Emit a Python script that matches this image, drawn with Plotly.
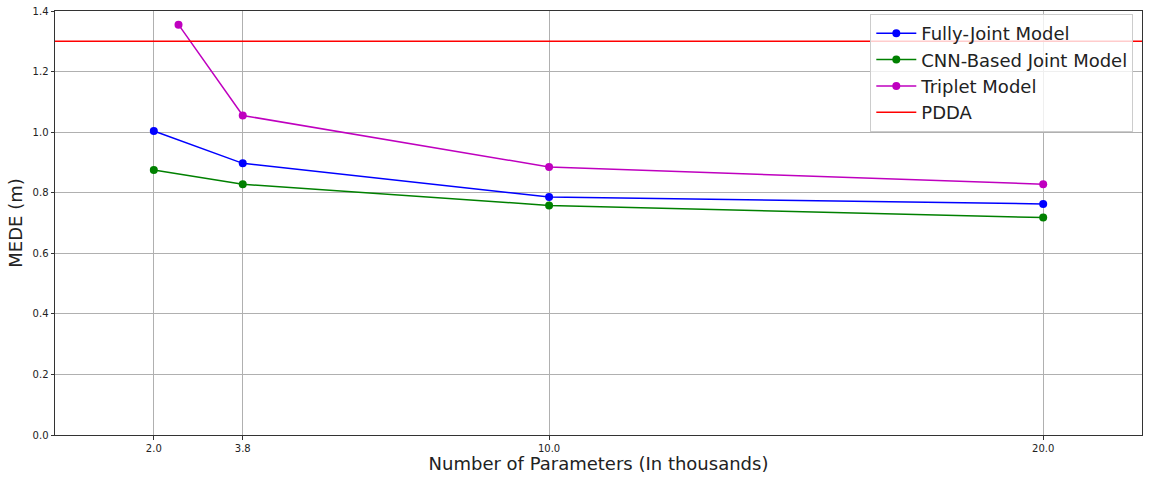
import plotly.graph_objects as go

params = [2.0, 3.8, 10.0, 20.0]
triplet_params = [2.5, 3.8, 10.0, 20.0]
fully_joint = [1.004, 0.897, 0.786, 0.763]
cnn_joint = [0.875, 0.828, 0.758, 0.718]
triplet = [1.355, 1.055, 0.885, 0.828]
pdda = 1.30
x_ticks = [2.0, 3.8, 10.0, 20.0]
x_tick_labels = ["2.0", "3.8", "10.0", "20.0"]
y_ticks = [0.0, 0.2, 0.4, 0.6, 0.8, 1.0, 1.2, 1.4]
y_tick_labels = ["0.0", "0.2", "0.4", "0.6", "0.8", "1.0", "1.2", "1.4"]

font_family = "DejaVu Sans"

fig = go.Figure()
fig.add_trace(go.Scatter(x=params, y=fully_joint, mode="lines+markers", name="Fully-Joint Model",
                         line=dict(color="#0000ff", width=1.5), marker=dict(color="#0000ff", size=8)))
fig.add_trace(go.Scatter(x=params, y=cnn_joint, mode="lines+markers", name="CNN-Based Joint Model",
                         line=dict(color="#008000", width=1.5), marker=dict(color="#008000", size=8)))
fig.add_trace(go.Scatter(x=triplet_params, y=triplet, mode="lines+markers", name="Triplet Model",
                         line=dict(color="#bf00bf", width=1.5), marker=dict(color="#bf00bf", size=8)))
fig.add_trace(go.Scatter(x=[0, 22], y=[pdda, pdda], mode="lines", name="PDDA",
                         line=dict(color="#ff0000", width=1.5)))

fig.update_layout(
    width=1150, height=486,
    margin=dict(l=55, r=8, t=11, b=51),
    paper_bgcolor="white", plot_bgcolor="white",
    font=dict(family=font_family, color="#222222"),
    showlegend=True,
    legend=dict(x=0.992, y=0.993, xanchor="right", yanchor="top",
                bgcolor="rgba(255,255,255,0.8)", bordercolor="#cccccc", borderwidth=1,
                font=dict(size=18, family=font_family, color="#222222"),
                itemwidth=40, tracegroupgap=0),
    xaxis=dict(range=[0, 22], tickvals=x_ticks, ticktext=x_tick_labels, automargin=False,
               showgrid=True, gridcolor="#b0b0b0", gridwidth=1, zeroline=False,
               showline=True, linecolor="#333333", linewidth=1, mirror=True,
               ticks="outside", ticklen=3.5, tickcolor="#333333",
               tickfont=dict(size=10, family=font_family),
               title=dict(text="Number of Parameters (In thousands)", font=dict(size=18, family=font_family), standoff=4)),
    yaxis=dict(range=[0, 1.4], tickvals=y_ticks, ticktext=y_tick_labels, automargin=False,
               showgrid=True, gridcolor="#b0b0b0", gridwidth=1, zeroline=False,
               showline=True, linecolor="#333333", linewidth=1, mirror=True,
               ticks="outside", ticklen=3.5, tickcolor="#333333",
               tickfont=dict(size=10, family=font_family),
               title=dict(text="MEDE (m)", font=dict(size=18, family=font_family), standoff=5)),
)

fig.write_html("out.html", config={"displayModeBar": False},
               post_script="document.body.style.margin='0';")
